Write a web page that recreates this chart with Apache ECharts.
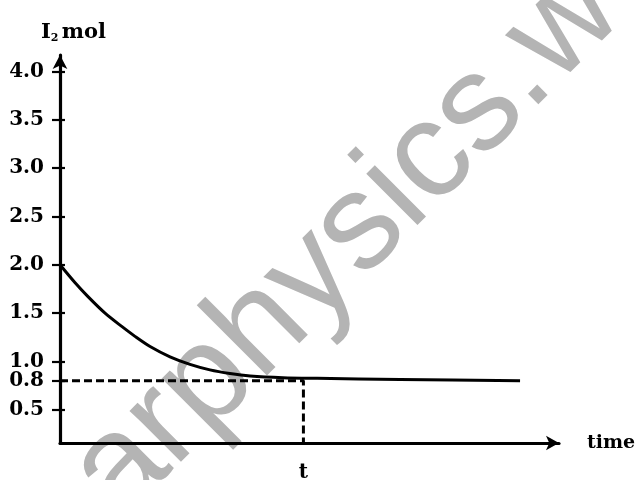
<!DOCTYPE html>
<html><head><meta charset="utf-8">
<script src="https://cdn.jsdelivr.net/npm/echarts@6/dist/echarts.min.js"></script>
<style>html,body{margin:0;padding:0;background:#fff}#c{width:638px;height:480px}</style>
</head><body><div id="c"></div>
<script>
// ---- data ----
const yTickValues = [0.5, 0.8, 1.0, 1.5, 2.0, 2.5, 3.0, 3.5, 4.0];
const xTickValues = [10];
const xTickLabels = ['t'];
const curveTime = [0, 0.62, 1.15, 1.85, 2.55, 3.08, 3.70, 4.52, 5.34, 6.16, 6.98, 7.81, 9.16, 10.56, 13.97, 18.9];
const curveMol  = [2.0, 1.814, 1.671, 1.50, 1.36, 1.26, 1.155, 1.048, 0.970, 0.913, 0.876, 0.851, 0.833, 0.826, 0.814, 0.80];
const markTime = 10;      // t
const markMol = 0.8;      // equilibrium amount
const yMin = 0.157, yMax = 4.17, xMin = 0, xMax = 20.5;
const watermarkText = 'arphysics.w';

const serif = 'DejaVu Serif';
const curveData = curveTime.map((t, i) => [t, curveMol[i]]);
const dashData = [[xMin, markMol], [markTime, markMol], [markTime, yMin]];

const chart = echarts.init(document.getElementById('c'), null, {renderer: 'canvas'});
chart.setOption({
  animation: false,
  backgroundColor: '#fff',
  grid: {left: 60, right: 79, top: 55, bottom: 37, containLabel: false, outerBoundsMode: 'none'},
  graphic: [{
    type: 'group', x: 0, y: 0, z: -10, silent: true,
    children: [{
      type: 'text', x: 142, y: 544, rotation: 45 * Math.PI / 180,
      style: {text: watermarkText, fontSize: 137, fontFamily: 'Liberation Sans',
              fill: '#b4b4b4', align: 'left', verticalAlign: 'bottom'}
    }]
  }],
  xAxis: {
    type: 'value', min: xMin, max: xMax,
    splitLine: {show: false},
    axisLine: {show: true, onZero: false, symbol: ['none', 'arrow'], symbolSize: [11, 13],
               lineStyle: {color: '#000', width: 3.2}},
    axisTick: {show: false},
    axisLabel: {customValues: xTickValues, formatter: v => xTickLabels[xTickValues.indexOf(v)] || '',
                color: '#000', fontFamily: serif, fontWeight: 'bold', fontSize: 20, margin: 20},
    name: 'time', nameLocation: 'end', nameGap: 28,
    nameTextStyle: {color: '#000', fontFamily: serif, fontWeight: 'bold', fontSize: 19, padding: [10, 0, 0, 0]}
  },
  yAxis: [{
    type: 'value', min: yMin, max: yMax, position: 'left',
    splitLine: {show: false},
    axisLine: {show: true, onZero: false, symbol: ['none', 'arrow'], symbolSize: [11, 14],
               lineStyle: {color: '#000', width: 3.2}},
    axisTick: {show: true, customValues: yTickValues, length: 8, inside: false,
               lineStyle: {color: '#000', width: 2.2}},
    axisLabel: {customValues: yTickValues, formatter: v => v.toFixed(1),
                color: '#000', fontFamily: serif, fontWeight: 'bold', fontSize: 20, margin: 16},
    name: '{i|I}{s|2} {m|mol}', nameLocation: 'end', nameGap: 11,
    nameTextStyle: {color: '#000', padding: [0, 0, 0, 27],
      rich: {
        i: {fontFamily: serif, fontWeight: 'bold', fontSize: 21, color: '#000'},
        s: {fontFamily: serif, fontWeight: 'bold', fontSize: 11, color: '#000', padding: [12, 0, 0, 0]},
        m: {fontFamily: serif, fontWeight: 'bold', fontSize: 21, color: '#000'}
      }}
  }, {
    type: 'value', min: yMin, max: yMax, position: 'left', offset: 0,
    splitLine: {show: false},
    axisLine: {show: false},
    axisTick: {show: true, customValues: yTickValues, length: 5, inside: true,
               lineStyle: {color: '#000', width: 2.2}},
    axisLabel: {show: false}
  }],
  series: [{
    type: 'line', data: curveData, showSymbol: false, smooth: 0.3,
    lineStyle: {color: '#000', width: 3}, z: 3
  }, {
    type: 'line', data: dashData, showSymbol: false,
    lineStyle: {color: '#000', width: 3, type: [8, 4]}, z: 2
  }]
});
</script></body></html>
